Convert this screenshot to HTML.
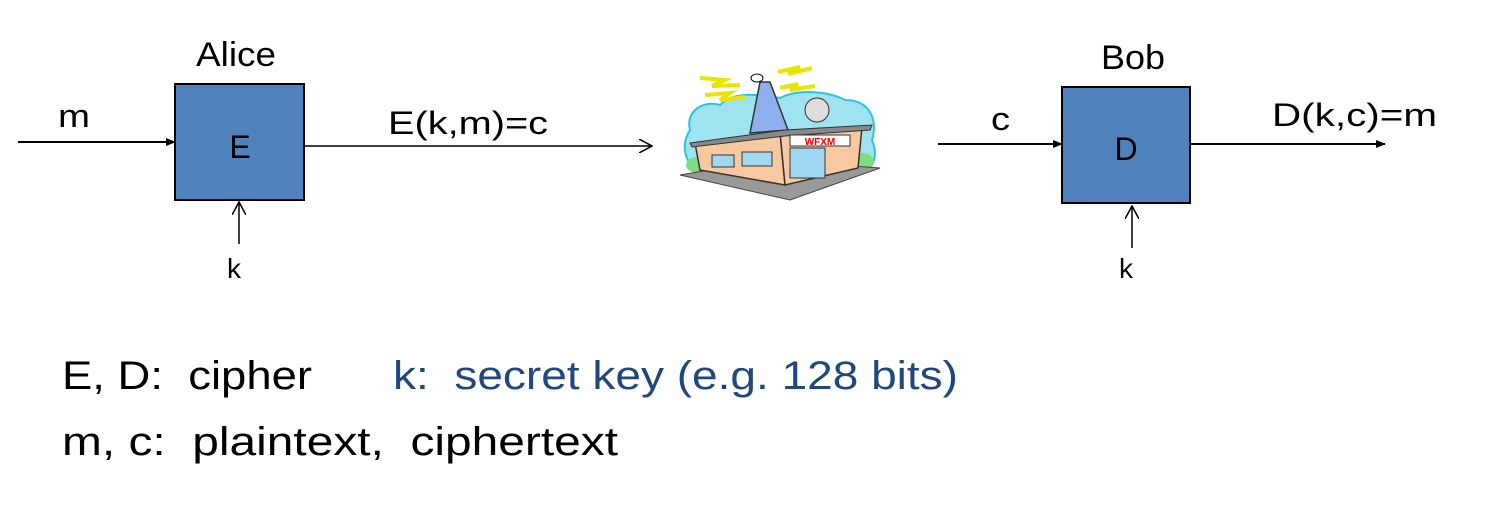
<!DOCTYPE html>
<html><head><style>
html,body{margin:0;padding:0;background:#fff;width:1504px;height:509px;overflow:hidden}
svg text{font-family:"Liberation Sans","DejaVu Sans",sans-serif;white-space:pre}
</style></head><body>
<svg width="1504" height="509" viewBox="0 0 1504 509" xmlns="http://www.w3.org/2000/svg" xml:space="preserve">
<defs>
<marker id="af" markerWidth="10" markerHeight="8" refX="9" refY="4" orient="auto" markerUnits="userSpaceOnUse"><path d="M0,0 L10,4 L0,8 Z" fill="#000"/></marker>
<marker id="ao" markerWidth="14" markerHeight="14" refX="13" refY="7" orient="auto" markerUnits="userSpaceOnUse"><path d="M0,0 L13,7 L0,14" fill="none" stroke="#000" stroke-width="1.5"/></marker>
</defs>
<text x="196" y="66" font-size="34" textLength="80" lengthAdjust="spacingAndGlyphs">Alice</text>
<text x="58" y="127" font-size="32" textLength="32" lengthAdjust="spacingAndGlyphs">m</text>
<line x1="18" y1="142" x2="175" y2="142" stroke="#000" stroke-width="2" marker-end="url(#af)"/>
<rect x="175" y="84" width="129" height="116" fill="#4F81BD" stroke="#000" stroke-width="2"/>
<text x="240" y="158" font-size="32" text-anchor="middle">E</text>
<line x1="304" y1="146" x2="652" y2="146" stroke="#000" stroke-width="1.5" marker-end="url(#ao)"/>
<text x="388" y="134" font-size="32" textLength="160" lengthAdjust="spacingAndGlyphs">E(k,m)=c</text>
<line x1="239" y1="244" x2="239" y2="202" stroke="#000" stroke-width="1.5" marker-end="url(#ao)"/>
<text x="234" y="278" font-size="28" text-anchor="middle">k</text>
<g>
<path d="M690,130 C685,110 705,100 720,105 C735,90 760,95 780,98 C800,88 830,92 845,100 C870,100 878,120 872,140 C880,160 870,170 860,172 L700,172 C685,165 680,145 690,130Z" fill="#9FE3F0" stroke="#2cc3e0" stroke-width="2"/>
<ellipse cx="698" cy="165" rx="12" ry="8" fill="#7ddc7d"/>
<ellipse cx="862" cy="162" rx="12" ry="9" fill="#7ddc7d"/>
<path d="M750,133 L760,82 L770,82 L788,130Z" fill="#8fb0ef" stroke="#333" stroke-width="1.5"/>
<ellipse cx="757" cy="78" rx="6" ry="4" fill="#fff" stroke="#000"/>
<path d="M700,78 L725,80 L712,86 L740,85" fill="none" stroke="#e6e600" stroke-width="4"/>
<path d="M705,95 L730,93 L720,100 L745,97" fill="none" stroke="#e6e600" stroke-width="4"/>
<path d="M778,72 L800,67 L788,74 L812,68" fill="none" stroke="#e6e600" stroke-width="4"/>
<path d="M780,88 L798,84 L790,90 L815,86" fill="none" stroke="#e6e600" stroke-width="4"/>
<circle cx="817" cy="110" r="12" fill="#ddd" stroke="#333"/>
<path d="M680,175 L790,200 L880,168 L770,160Z" fill="#999" stroke="#444"/>
<path d="M695,143 L780,132 L785,185 L700,170Z" fill="#f8c9a0" stroke="#333" stroke-width="1.5"/>
<path d="M780,132 L862,127 L858,168 L785,185Z" fill="#f8c9a0" stroke="#333" stroke-width="1.5"/>
<path d="M690,143 L785,130 L872,125 L870,130 L785,136 L692,147Z" fill="#888" stroke="#333"/>
<rect x="712" y="155" width="22" height="12" fill="#9fd8f0" stroke="#333"/>
<rect x="742" y="152" width="30" height="14" fill="#9fd8f0" stroke="#333"/>
<rect x="790" y="148" width="35" height="30" fill="#9fd8f0" stroke="#333"/>
<rect x="790" y="135" width="60" height="11" fill="#fff" stroke="#333"/>
<text x="820" y="145" font-size="10" font-weight="bold" fill="#e00" text-anchor="middle">WFXM</text>
</g>
<text x="1101" y="69" font-size="34" textLength="64" lengthAdjust="spacingAndGlyphs">Bob</text>
<text x="991" y="130" font-size="32" textLength="19" lengthAdjust="spacingAndGlyphs">c</text>
<line x1="938" y1="144" x2="1062" y2="144" stroke="#000" stroke-width="2" marker-end="url(#af)"/>
<rect x="1062" y="87" width="128" height="116" fill="#4F81BD" stroke="#000" stroke-width="2"/>
<text x="1126" y="160" font-size="32" text-anchor="middle">D</text>
<line x1="1190" y1="144" x2="1385" y2="144" stroke="#000" stroke-width="2" marker-end="url(#af)"/>
<text x="1272" y="126" font-size="32" textLength="165" lengthAdjust="spacingAndGlyphs">D(k,c)=m</text>
<line x1="1132" y1="248" x2="1132" y2="206" stroke="#000" stroke-width="1.5" marker-end="url(#ao)"/>
<text x="1126" y="278" font-size="28" text-anchor="middle">k</text>
<text x="62" y="389" font-size="40" textLength="250" lengthAdjust="spacingAndGlyphs">E, D:  cipher</text>
<text x="393" y="389" font-size="40" fill="#1F497D" textLength="565" lengthAdjust="spacingAndGlyphs">k:  secret key (e.g. 128 bits)</text>
<text x="62" y="455" font-size="40" textLength="556" lengthAdjust="spacingAndGlyphs">m, c:  plaintext,  ciphertext</text>
</svg>
</body></html>
